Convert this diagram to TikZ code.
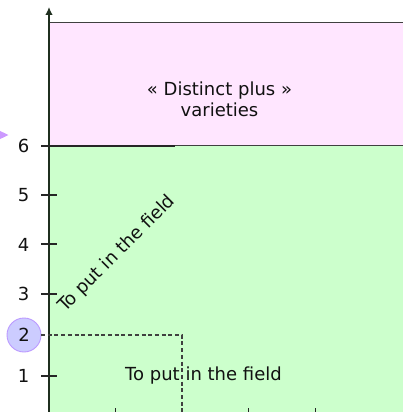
\documentclass[tikz,border=0pt]{standalone}
\usepackage{fontspec}
\setmainfont{DejaVu Sans}
\definecolor{pinkbg}{HTML}{FFE6FF}
\definecolor{greenbg}{HTML}{CCFFCC}
\definecolor{circfill}{HTML}{CCCCFF}
\definecolor{circdraw}{HTML}{BB99FF}
\definecolor{triang}{HTML}{CC99FF}
\definecolor{axiscol}{HTML}{1F2F1F}
\definecolor{txt}{HTML}{111111}
\usetikzlibrary{arrows.meta}
\begin{document}
\begin{tikzpicture}[x=1pt,y=-1pt,
  every node/.style={font=\fontsize{18}{21}\selectfont, text=txt, inner sep=0pt},
  regionline/.style={draw=black!75, line width=1.2pt},
  tickline/.style={draw=black!85, line width=1.1pt},
  dashline/.style={draw=black!75, line width=1.1pt, dash pattern=on 4pt off 2.7pt},
  axisline/.style={draw=axiscol, line width=1.4pt},
  ticklbl/.style={anchor=center},
  badge/.style={circle, fill=circfill, draw=circdraw, line width=0.9pt, minimum size=34pt, inner sep=0pt}]
\useasboundingbox (0,0) rectangle (403,412);
\clip (0,0) rectangle (403,412);
% regions
\fill[pinkbg] (49,22.7) rectangle (430,145.5);
\fill[greenbg] (49,145.5) rectangle (430,440);
\draw[regionline] (49,22.7) -- (430,22.7);
\draw[regionline] (49,145.5) -- (430,145.5);
% triangle marker at left
\fill[triang] (-3,129.5) -- (8.5,135) -- (-3,140.5) -- cycle;
% y-axis
\coordinate (ybot) at (49,440);
\coordinate (ytop) at (49,7);
\draw[axisline, -{Latex[length=8pt,width=7.5pt]}] (ybot) -- (ytop);
% y ticks
\draw[tickline] (41,146) -- (175,146);
\foreach \yy in {195,244,294,376} {\draw[tickline] (41,\yy) -- (57,\yy);}
% x ticks
\foreach \xx in {115.7,248.7,315.3} {\draw[tickline] (\xx,408) -- (\xx,420);}
% tick labels
\node[ticklbl] (l6) at (23.5,146) {6};
\node[ticklbl] (l5) at (23.5,195.5) {5};
\node[ticklbl] (l4) at (23.5,244.5) {4};
\node[ticklbl] (l3) at (23.5,294) {3};
\node[ticklbl] (l1) at (23.5,376) {1};
\node[badge] (l2) at (24,335) {2};
% dashed guide
\coordinate (dA) at (41,335);
\coordinate (dB) at (182,335);
\coordinate (dC) at (182,440);
\draw[dashline] (dA) -- (dB) -- (dC);
% texts
\node[align=center] (distinct) at (219.5,99) {« Distinct plus »\\varieties};
\node[rotate=45] (diag) at (117,254) {To put in the field};
\node (bottom) at (203.5,376) {To put in the field};
\end{tikzpicture}
\end{document}
